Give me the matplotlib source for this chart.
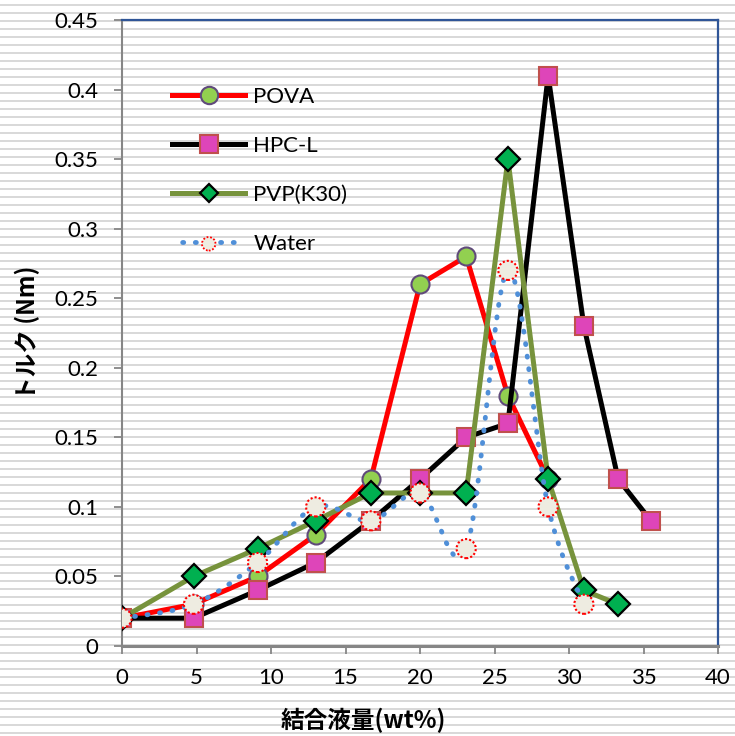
import numpy as np
import matplotlib
matplotlib.use("Agg")
import matplotlib.pyplot as plt
from matplotlib.path import Path
from matplotlib.patches import PathPatch
from matplotlib.lines import Line2D
from matplotlib.legend_handler import HandlerTuple
from matplotlib.ticker import FuncFormatter

plt.rcParams['font.family'] = ['Lato', 'Noto Sans CJK JP', 'DejaVu Sans']

# binder liquid amount (wt%)
x_pova = [0, 4.8, 9.1, 13.0, 16.7, 20.0, 23.1, 25.9, 28.6]
y_pova = [0.02, 0.03, 0.05, 0.08, 0.12, 0.26, 0.28, 0.18, 0.12]

x_hpc = [0, 4.8, 9.1, 13.0, 16.7, 20.0, 23.1, 25.9, 28.6, 31.0, 33.3, 35.5]
y_hpc = [0.02, 0.02, 0.04, 0.06, 0.09, 0.12, 0.15, 0.16, 0.41, 0.23, 0.12, 0.09]

x_pvp = [0, 4.8, 9.1, 13.0, 16.7, 20.0, 23.1, 25.9, 28.6, 31.0, 33.3]
y_pvp = [0.02, 0.05, 0.07, 0.09, 0.11, 0.11, 0.11, 0.35, 0.12, 0.04, 0.03]

x_water = [0, 4.8, 9.1, 13.0, 16.7, 20.0, 23.1, 25.9, 28.6, 31.0]
y_water = [0.02, 0.03, 0.06, 0.10, 0.09, 0.11, 0.07, 0.27, 0.10, 0.03]

labels = ['POVA', 'HPC-L', 'PVP(K30)', 'Water']

W, H = 735, 736
fig = plt.figure(figsize=(W / 100, H / 100), dpi=100)

# striped background (chart area pattern)
bg = fig.add_axes([0, 0, 1, 1], zorder=-1)
bg.set_xlim(0, W)
bg.set_ylim(H, 0)
bg.axis('off')
for yy in np.arange(4, H, 8):
    bg.axhspan(yy, yy + 2, color='#D9D9D9', lw=0)

ax = fig.add_axes([122 / W, 1 - 646 / H, (718 - 122) / W, (646 - 20) / H])
ax.set_facecolor('none')


def smooth_path(xs, ys):
    # Excel-like smoothed line as cubic Bezier segments
    pts = np.column_stack([xs, ys]).astype(float)
    n = len(pts)
    verts = [pts[0]]
    codes = [Path.MOVETO]
    for i in range(n - 1):
        p0 = pts[i - 1] if i > 0 else pts[i]
        p1 = pts[i]
        p2 = pts[i + 1]
        p3 = pts[i + 2] if i + 2 < n else pts[i + 1]
        c1 = p1 + (p2 - p0) / 6.0
        c2 = p2 - (p3 - p1) / 6.0
        verts += [c1, c2, p2]
        codes += [Path.CURVE4] * 3
    return Path(verts, codes)


lw = 3.6
pova_style = dict(color='#FF0000', lw=lw, marker='o', mfc='#92D050',
                  mec='#604A7B', mew=1.5)
hpc_style = dict(color='black', lw=lw, marker='s', mfc='#DE45B9',
                 mec='#C0504D', mew=1.5)
pvp_style = dict(color='#77933C', lw=lw, marker='D', mfc='#00B050',
                 mec='black', mew=1.6)

ax.plot(x_pova, y_pova, ms=13, zorder=3, **pova_style)
ax.plot(x_hpc, y_hpc, ms=13, zorder=4, **hpc_style)
ax.plot(x_pvp, y_pvp, ms=12.5, zorder=5, **pvp_style)

water_blue = '#4F8FD8'
dot_style = (0, (0.2, 2.4))
ax.add_patch(PathPatch(smooth_path(x_water, y_water), fill=False,
                       edgecolor=water_blue, lw=3.5, linestyle=dot_style,
                       capstyle='round', zorder=6))
ax.scatter(x_water, y_water, s=190, facecolor='#EEECE1',
           edgecolor='#FF0000', linewidths=1.5, linestyle=(0, (1, 1)),
           zorder=7)

# legend proxies
p1 = Line2D([], [], ms=12.5, **pova_style)
p2 = Line2D([], [], ms=12.5, **hpc_style)
p3 = Line2D([], [], ms=9, **pvp_style)
p4_line = Line2D([], [], color=water_blue, lw=3.5, linestyle=(0.5, (0.2, 2.4)),
                 dash_capstyle='round')
p4_mark = ax.scatter([], [], s=95, facecolor='#EEECE1', edgecolor='#FF0000',
                     linewidths=1.3, linestyle=(0, (1, 1)))

ax.set_xlim(0, 40)
ax.set_ylim(0, 0.45)
ax.set_xticks(np.arange(0, 41, 5))
ax.set_yticks(np.arange(0, 0.451, 0.05))
ax.yaxis.set_major_formatter(FuncFormatter(lambda v, p: '{:g}'.format(round(v, 2))))

for side in ['left', 'bottom']:
    ax.spines[side].set_color('#868686')
ax.spines['left'].set_linewidth(1.5)
ax.spines['bottom'].set_linewidth(2.2)
for side in ['top', 'right']:
    ax.spines[side].set_color('#2F5597')
    ax.spines[side].set_linewidth(1.6)

ax.tick_params(direction='out', length=6, width=1.3, color='#868686',
               labelsize=16, labelcolor='black')
ax.tick_params(axis='y', pad=11)
ax.tick_params(axis='x', pad=10)

cjk = ['Noto Sans CJK JP', 'DejaVu Sans']
ax.set_ylabel('トルク (Nm)', fontsize=17, fontweight='bold', family=cjk,
              va='center')
ax.yaxis.set_label_coords((27 - 122) / 596, 0.5)
ax.set_xlabel('結合液量(wt%)', fontsize=17, fontweight='bold', family=cjk,
              va='center')
ax.xaxis.set_label_coords((363 - 122) / 596, (646 - 720) / 626)

ax.legend([p1, p2, p3, (p4_line, p4_mark)], labels,
          handler_map={tuple: HandlerTuple(ndivide=1)},
          loc='upper left', bbox_to_anchor=(0.084, 0.893), frameon=False,
          fontsize=16, handlelength=3.3, handletextpad=0.35,
          labelspacing=1.3, borderpad=0, borderaxespad=0, scatterpoints=1)

fig.savefig('out.png', dpi=100)
